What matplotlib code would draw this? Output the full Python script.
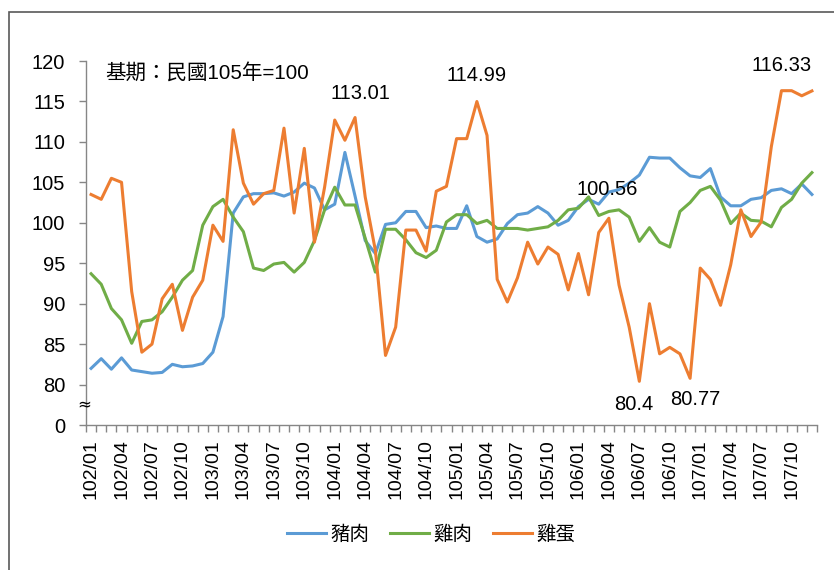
import matplotlib
matplotlib.use("Agg")
import matplotlib.pyplot as plt
from matplotlib.patches import Rectangle

# monthly index, ROC years 102/01 .. 107/12
months = [f"{y}/{m:02d}" for y in range(102, 108) for m in range(1, 13)]

pork = [82.0, 83.2, 81.9, 83.3, 81.8, 81.6, 81.4, 81.5, 82.5, 82.2, 82.3, 82.6,
        84.0, 88.4, 101.2, 103.2, 103.6, 103.6, 103.7, 103.3, 103.8, 104.9, 104.3, 101.6,
        102.3, 108.7, 103.3, 97.8, 96.2, 99.8, 100.0, 101.4, 101.4, 99.4, 99.6, 99.3,
        99.3, 102.1, 98.3, 97.6, 98.0, 99.9, 101.0, 101.2, 102.0, 101.2, 99.7, 100.3,
        102.0, 102.9, 102.3, 103.8, 104.1, 104.9, 105.9, 108.1, 108.0, 108.0, 106.8, 105.8,
        105.6, 106.7, 103.2, 102.1, 102.1, 102.9, 103.1, 104.0, 104.2, 103.6, 104.8, 103.5]
chicken = [93.7, 92.4, 89.4, 88.0, 85.1, 87.8, 88.0, 89.0, 90.8, 92.9, 94.1, 99.7,
           102.0, 102.9, 100.7, 98.9, 94.4, 94.1, 94.9, 95.1, 93.9, 95.1, 97.8, 101.6,
           104.4, 102.2, 102.2, 98.1, 93.9, 99.2, 99.2, 97.9, 96.3, 95.7, 96.6, 100.1,
           101.0, 101.0, 99.9, 100.3, 99.3, 99.3, 99.3, 99.1, 99.3, 99.5, 100.3, 101.6,
           101.8, 103.2, 100.9, 101.4, 101.6, 100.7, 97.7, 99.4, 97.6, 97.0, 101.4, 102.5,
           104.0, 104.5, 102.8, 99.9, 101.2, 100.3, 100.2, 99.5, 101.9, 102.9, 104.9, 106.2]
egg = [103.5, 102.9, 105.5, 105.0, 91.5, 84.0, 85.0, 90.6, 92.4, 86.7, 90.8, 92.9,
       99.7, 97.7, 111.5, 104.9, 102.3, 103.6, 104.0, 111.7, 101.2, 109.2, 97.6, 104.4,
       112.7, 110.2, 113.01, 103.2, 96.6, 83.6, 87.1, 99.1, 99.1, 96.5, 103.9, 104.5,
       110.4, 110.4, 114.99, 110.8, 93.0, 90.2, 93.2, 97.6, 94.9, 97.0, 96.1, 91.7,
       96.2, 91.1, 98.8, 100.56, 92.3, 87.1, 80.4, 90.0, 83.8, 84.6, 83.8, 80.77,
       94.4, 93.0, 89.8, 94.8, 101.6, 98.3, 100.1, 109.4, 116.33, 116.33, 115.7, 116.3]

# which egg points get a value label, and where the text sits (offset points)
label_idx = [26, 38, 51, 54, 59, 68]
label_off = [(4, 17), (0, 19), (-1, 21), (-4, -17), (4, -15), (0, 18)]

# broken axis: tick "0" drawn at 75
ytick_vals = [75, 80, 85, 90, 95, 100, 105, 110, 115, 120]
ytick_labels = ["0", "80", "85", "90", "95", "100", "105", "110", "115", "120"]

plt.rcParams["font.family"] = ["Liberation Sans", "Noto Sans CJK TC"]
axis_grey = "#868686"

fig = plt.figure(figsize=(8.34, 5.70), dpi=100)
ax = fig.add_axes([86 / 834, 1 - 425 / 570, 731 / 834, 364 / 570])

x = list(range(len(months)))
ax.plot(x, pork, color="#5B9BD5", lw=2.2, label="豬肉")
ax.plot(x, chicken, color="#70AD47", lw=2.2, label="雞肉")
ax.plot(x, egg, color="#ED7D31", lw=2.2, label="雞蛋")

for i, off in zip(label_idx, label_off):
    ax.annotate(f"{egg[i]:g}", (i, egg[i]), xytext=off, textcoords="offset points",
                ha="center", va="center", fontsize=14.5, color="black")

ax.set_xlim(-0.5, len(months) - 0.5)
ax.set_ylim(75, 120)
ax.set_yticks(ytick_vals, ytick_labels)
ax.set_xticks(x[::3], months[::3], rotation=90)
ax.set_xticks([i - 0.5 for i in range(len(months) + 1)], minor=True)

ax.tick_params(axis="y", direction="out", length=5, width=1, color=axis_grey,
               labelsize=14.5, pad=10)
ax.tick_params(axis="x", which="major", length=0, labelsize=14, pad=10)
ax.tick_params(axis="x", which="minor", direction="out", length=5, width=1, color=axis_grey)

for side in ["top", "right"]:
    ax.spines[side].set_visible(False)
for side in ["left", "bottom"]:
    ax.spines[side].set_color(axis_grey)
    ax.spines[side].set_linewidth(1)

ax.text(-0.65, 77.55, "≈", ha="center", va="center", fontsize=12,
        family=["DejaVu Sans"], clip_on=False)
ax.text(0.027, 0.967, "基期：民國105年=100", transform=ax.transAxes,
        ha="left", va="center", fontsize=14.8)

fig.legend(loc="center", bbox_to_anchor=(0.517, 0.063), ncol=3, frameon=False,
           handlelength=2.0, columnspacing=1.1, handletextpad=0.2,
           prop={"family": ["Noto Sans CJK TC"], "size": 14})

# chart-area border
fig.patches.append(Rectangle((9 / 834, -0.05), 1.0, 1.05 - 12 / 570,
                             transform=fig.transFigure, fill=False,
                             edgecolor="#595959", lw=1.2))

fig.savefig("out.png", dpi=100)
